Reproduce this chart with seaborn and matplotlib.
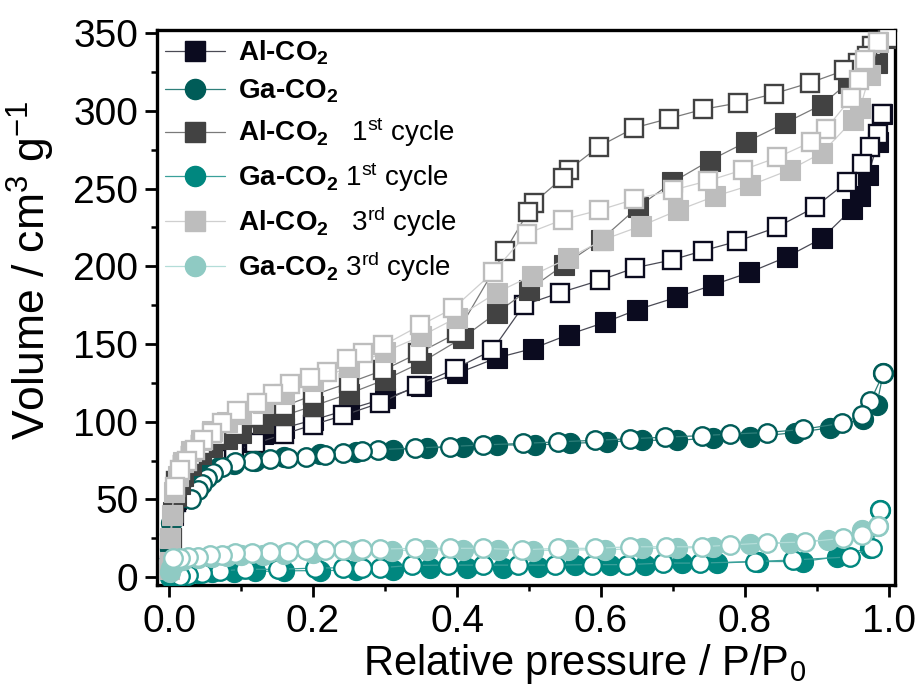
import numpy as np
import pandas as pd
import matplotlib
matplotlib.use("Agg")
import matplotlib.pyplot as plt
from matplotlib.lines import Line2D
import seaborn as sns

# ---------------- data ----------------
al_ads_p = [0.001, 0.003, 0.006, 0.01, 0.015, 0.02, 0.03, 0.045, 0.06, 0.08, 0.10, 0.13, 0.16, 0.20, 0.25, 0.30,
            0.35, 0.40, 0.455, 0.505, 0.555, 0.606, 0.65, 0.705, 0.756, 0.806, 0.858, 0.907, 0.949, 0.96, 0.971, 0.985, 0.99]
al_ads_v = [8, 25, 40, 50, 57, 62, 68, 74, 78, 83, 87, 92, 96, 101, 108, 115,
            123, 131, 141, 147, 156, 164, 172, 180, 188, 196, 206, 218, 237, 245, 259, 280, 298]
al_des_p = [0.99, 0.985, 0.974, 0.962, 0.941, 0.897, 0.844, 0.789, 0.742, 0.698, 0.647, 0.599, 0.543, 0.493,
            0.449, 0.397, 0.344, 0.293, 0.242, 0.20, 0.16, 0.12, 0.09, 0.065, 0.045, 0.03, 0.02, 0.01]
al_des_v = [298, 285, 277, 266, 254, 238, 225, 216, 210, 204, 199, 191, 183, 175,
            146, 134, 123, 112, 104, 98, 92, 86, 81, 76, 70, 64, 58, 48]

ga_ads_p = [0.0005, 0.001, 0.002, 0.003, 0.005, 0.008, 0.012, 0.018, 0.025, 0.035, 0.05, 0.07, 0.09, 0.12, 0.16,
            0.21, 0.26, 0.311, 0.358, 0.408, 0.455, 0.508, 0.557, 0.608, 0.657, 0.705, 0.756, 0.807, 0.87, 0.918,
            0.964, 0.983, 0.992]
ga_ads_v = [10, 18, 28, 35, 42, 48, 53, 57, 61, 65, 68.5, 71, 73, 75, 77,
            79, 80.5, 82, 83, 84, 85, 85, 86, 87, 88, 88, 89.5, 90, 93, 96,
            102, 111, 131]
ga_des_p = [0.992, 0.974, 0.962, 0.934, 0.88, 0.83, 0.779, 0.74, 0.689, 0.64, 0.592, 0.54, 0.492, 0.436, 0.39,
            0.341, 0.29, 0.268, 0.242, 0.217, 0.19, 0.165, 0.14, 0.115, 0.092, 0.074, 0.061, 0.053, 0.046, 0.04, 0.03]
ga_des_v = [131, 113, 104, 99, 95, 93, 92, 91, 90, 89, 88, 87, 86, 85, 84,
            83, 82, 81, 80, 78.5, 77, 76.5, 76, 75, 74, 71, 67, 64, 60, 56, 50]

al1_ads_p = [0.001, 0.003, 0.006, 0.01, 0.015, 0.02, 0.03, 0.045, 0.06, 0.08, 0.10, 0.13, 0.16, 0.20, 0.25, 0.30,
             0.35, 0.408, 0.455, 0.50, 0.549, 0.60, 0.651, 0.699, 0.751, 0.802, 0.855, 0.907, 0.943, 0.983, 0.999]
al1_ads_v = [8, 25, 42, 52, 60, 65, 72, 79, 84, 89, 93, 99, 104, 110, 118, 127,
             138, 154, 170, 185, 201, 217, 238, 254, 268, 280, 292, 304, 318, 331, 347]
al1_des_p = [0.999, 0.976, 0.969, 0.957, 0.938, 0.89, 0.84, 0.79, 0.742, 0.694, 0.646, 0.597, 0.555, 0.547, 0.507,
             0.499, 0.467, 0.40, 0.346, 0.297, 0.25, 0.20, 0.16, 0.12, 0.09, 0.065, 0.045, 0.03, 0.02, 0.01]
al1_des_v = [347, 342, 335, 331, 326, 318, 311, 305, 301, 295, 289, 277, 262, 257, 241,
             235, 210, 157, 144, 133, 125, 117, 110, 103, 97, 91, 85, 78, 72, 62]

ga1_ads_p = [0.001, 0.003, 0.006, 0.01, 0.02, 0.04, 0.06, 0.09, 0.12, 0.16, 0.21, 0.26, 0.311, 0.363, 0.414, 0.464,
             0.513, 0.564, 0.612, 0.661, 0.712, 0.761, 0.818, 0.88, 0.928, 0.974, 0.988]
ga1_ads_v = [0.3, 0.6, 1.0, 1.5, 2.0, 2.5, 3.0, 3.3, 3.6, 4.0, 4.2, 4.4, 4.6, 5.8, 5.8, 6.0,
             6.5, 8, 8, 8, 9, 9, 10, 10, 13, 19, 43]
ga1_des_p = [0.988, 0.976, 0.946, 0.867, 0.814, 0.737, 0.686, 0.636, 0.587, 0.536, 0.485, 0.436, 0.388, 0.337,
             0.293, 0.268, 0.242, 0.203, 0.151, 0.106, 0.071, 0.046, 0.026, 0.015]
ga1_des_v = [43, 19, 13, 11, 10, 9, 9, 8, 8, 7.7, 7.7, 7.7, 7.7, 7.5,
             6, 6, 6, 5.8, 5, 5, 4, 2.6, 1.3, 1]

al3_ads_p = [0.0005, 0.001, 0.002, 0.004, 0.007, 0.012, 0.02, 0.03, 0.045, 0.06, 0.08, 0.10, 0.13, 0.16, 0.20,
             0.25, 0.30, 0.35, 0.40, 0.455, 0.504, 0.554, 0.603, 0.656, 0.707, 0.758, 0.807, 0.862, 0.907, 0.95,
             0.96, 0.973, 0.985]
al3_ads_v = [5, 10, 25, 40, 55, 65, 74, 81, 88, 94, 100, 105, 112, 118, 126,
             135, 145, 155, 167, 183, 194, 205, 217, 226, 236, 245, 252, 262, 273, 294,
             302, 323, 344]
al3_des_p = [0.985, 0.967, 0.958, 0.947, 0.912, 0.892, 0.845, 0.797, 0.749, 0.70, 0.646, 0.597, 0.547, 0.497,
             0.45, 0.395, 0.349, 0.297, 0.27, 0.247, 0.219, 0.196, 0.168, 0.144, 0.122, 0.094, 0.074, 0.06,
             0.047, 0.036, 0.025, 0.015, 0.008]
al3_des_v = [344, 333, 320, 308, 288, 280, 270, 262, 255, 249, 243, 236, 230, 221,
             196, 173, 162, 149, 144, 140, 132, 128, 124, 118, 112, 107, 99, 93,
             88, 82, 75, 69, 58]

ga3_ads_p = [0.001, 0.003, 0.006, 0.01, 0.02, 0.04, 0.06, 0.08, 0.10, 0.13, 0.16, 0.20, 0.26, 0.31, 0.358, 0.408,
             0.457, 0.506, 0.554, 0.606, 0.657, 0.705, 0.756, 0.807, 0.863, 0.915, 0.962, 0.985]
ga3_ads_v = [3, 6, 8, 9.5, 11, 12.5, 13, 13.5, 14, 14.5, 15, 15.5, 16.5, 17, 17.5, 17.5,
             17.5, 17, 17.5, 17.5, 18.5, 18.5, 19.5, 21, 22, 24, 30, 33]
ga3_des_p = [0.985, 0.962, 0.936, 0.883, 0.83, 0.779, 0.74, 0.69, 0.64, 0.592, 0.54, 0.49, 0.436, 0.39, 0.341,
             0.293, 0.268, 0.242, 0.217, 0.19, 0.165, 0.14, 0.115, 0.092, 0.074, 0.057, 0.04, 0.026, 0.015, 0.006]
ga3_des_v = [33, 27, 25, 22.5, 22, 20.6, 19.5, 19.5, 19.5, 18.5, 18.5, 17.5, 18.5, 18.5, 18.5,
             18, 18, 17.4, 17.4, 17.4, 16, 16, 15.5, 15.5, 14, 14, 13, 13, 12, 12]

labels = [
    r"Al-CO$_2$",
    r"Ga-CO$_2$",
    r"Al-CO$_2$   $\mathrm{1^{st}\ cycle}$",
    r"Ga-CO$_2$ $\mathrm{1^{st}\ cycle}$",
    r"Al-CO$_2$   $\mathrm{3^{rd}\ cycle}$",
    r"Ga-CO$_2$ $\mathrm{3^{rd}\ cycle}$",
]
x_ticks = [0.0, 0.2, 0.4, 0.6, 0.8, 1.0]
y_ticks = [0, 50, 100, 150, 200, 250, 300, 350]

# ---------------- style ----------------
sns.set_theme(style="ticks")
plt.rcParams["font.family"] = ["Liberation Sans", "DejaVu Sans"]
plt.rcParams["mathtext.fontset"] = "custom"
plt.rcParams["mathtext.rm"] = "Liberation Sans"
plt.rcParams["mathtext.it"] = "Liberation Sans:italic"
plt.rcParams["mathtext.bf"] = "Liberation Sans:bold"
plt.rcParams["mathtext.default"] = "regular"
plt.rcParams["text.color"] = "black"
plt.rcParams["axes.labelcolor"] = "black"
plt.rcParams["xtick.color"] = "black"
plt.rcParams["ytick.color"] = "black"

series = [
    # (ads_p, ads_v, des_p, des_v, marker, color, line color)
    (al_ads_p, al_ads_v, al_des_p, al_des_v, "s", "#0b0b1f", "#4a4a55"),
    (ga_ads_p, ga_ads_v, ga_des_p, ga_des_v, "o", "#005c58", "#2f7f7a"),
    (al1_ads_p, al1_ads_v, al1_des_p, al1_des_v, "s", "#424242", "#7a7a7a"),
    (ga1_ads_p, ga1_ads_v, ga1_des_p, ga1_des_v, "o", "#00877f", "#3aa09a"),
    (al3_ads_p, al3_ads_v, al3_des_p, al3_des_v, "s", "#bdbdbd", "#cfcfcf"),
    (ga3_ads_p, ga3_ads_v, ga3_des_p, ga3_des_v, "o", "#8fcac3", "#b3ddd8"),
]

fig = plt.figure(figsize=(9.16, 6.90), dpi=100)
ax = fig.add_axes([157 / 916, 105 / 690, 738 / 916, 555 / 690])

MS = 14.5
handles = []
z = 2
for (ap, av, dp, dv, mk, col, lcol), lab in zip(series, labels):
    ads = pd.DataFrame({"p": ap, "v": av})
    des = pd.DataFrame({"p": dp, "v": dv})
    sns.lineplot(data=ads, x="p", y="v", ax=ax, sort=False, estimator=None, legend=False,
                 color=lcol, linewidth=0.9, marker=mk, markersize=MS,
                 markerfacecolor=col, markeredgecolor=col, markeredgewidth=0.8, zorder=z)
    z += 1
    sns.lineplot(data=des, x="p", y="v", ax=ax, sort=False, estimator=None, legend=False,
                 color=lcol, linewidth=0.9, marker=mk, markersize=MS - 1.2,
                 markerfacecolor="white", markeredgecolor=col, markeredgewidth=1.7, zorder=z)
    z += 1
    handles.append(Line2D([], [], color=lcol, linewidth=0.9, marker=mk, markersize=MS,
                          markerfacecolor=col, markeredgecolor=col))

ax.set_xlim(-0.0167, 1.0083)
ax.set_ylim(-5.1, 352)
ax.set_xticks(x_ticks)
ax.set_xticklabels([f"{t:.1f}" for t in x_ticks])
ax.set_yticks(y_ticks)
ax.set_yticklabels([str(t) for t in y_ticks])
ax.set_xticks([0.1, 0.3, 0.5, 0.7, 0.9], minor=True)
ax.set_yticks([25, 75, 125, 175, 225, 275, 325], minor=True)
ax.tick_params(which="major", direction="out", length=8.5, width=2, labelsize=28,
               colors="black", labelcolor="black", pad=5)
ax.tick_params(which="minor", direction="out", length=4.5, width=1.8, colors="black")
ax.tick_params(axis="both", which="both", top=False, right=False)
for s in ax.spines.values():
    s.set_linewidth(2.4)
    s.set_color("black")
ax.grid(False)

ax.set_xlabel("Relative pressure / P/P$_0$", fontsize=30, color="black")
ax.set_ylabel("Volume / cm$^3$ g$^{-1}$", fontsize=32, color="black")
ax.xaxis.set_label_coords(0.58, -0.103)
ax.yaxis.set_label_coords(-0.135, 0.567)

leg = ax.legend(handles, labels, loc="upper left", bbox_to_anchor=(0.0, 1.0), frameon=False,
                prop={"weight": "bold", "size": 20}, handlelength=2.15, handletextpad=0.45,
                labelspacing=0.38, borderaxespad=0.2, borderpad=0.1, labelcolor="black")

fig.savefig("out.png", dpi=100)
